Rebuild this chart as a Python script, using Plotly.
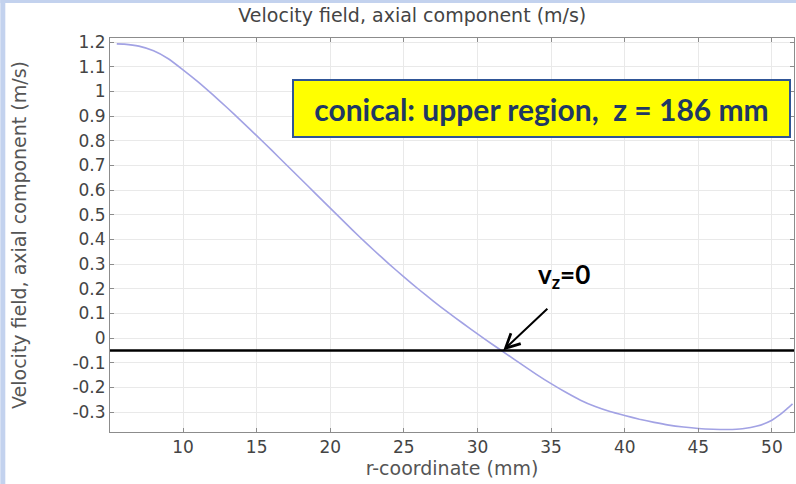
import plotly.graph_objects as go

# ---- data ----
r_mm = [5.5, 6, 7, 8, 9, 10, 11, 12, 13, 14, 15, 16, 17, 18, 19, 20, 21, 22,
        23, 24, 25, 26, 27, 28, 29, 30, 31, 32, 33, 34, 35, 36, 37, 38, 39,
        40, 41, 42, 43, 44, 45, 46, 47, 48, 49, 50, 50.5, 51, 51.4]
vz = [1.193, 1.192, 1.184, 1.165, 1.133, 1.088, 1.040, 0.988, 0.934, 0.878,
      0.821, 0.763, 0.704, 0.645, 0.586, 0.527, 0.468, 0.410, 0.354, 0.300,
      0.248, 0.198, 0.150, 0.104, 0.060, 0.017, -0.025, -0.066, -0.107,
      -0.147, -0.185, -0.220, -0.252, -0.278, -0.298, -0.314, -0.329, -0.342,
      -0.353, -0.361, -0.367, -0.370, -0.371, -0.368, -0.357, -0.333, -0.313,
      -0.288, -0.267]

x_ticks = [10, 15, 20, 25, 30, 35, 40, 45, 50]
y_ticks = [-0.3, -0.2, -0.1, 0, 0.1, 0.2, 0.3, 0.4, 0.5, 0.6, 0.7, 0.8, 0.9, 1.0, 1.1, 1.2]
y_ticktext = ["-0.3", "-0.2", "-0.1", "0", "0.1", "0.2", "0.3", "0.4", "0.5",
              "0.6", "0.7", "0.8", "0.9", "1", "1.1", "1.2"]

marker_line_y = -0.05          # horizontal reference line labelled v_z=0
arrow_head = (31.75, -0.05)
arrow_tail = (34.85, 0.125)

title_text = "Velocity field, axial component (m/s)"
box_text = "conical: upper region,  z = 186 mm"

X_RANGE = [5.04, 51.5]
Y_RANGE = [-0.381, 1.217]

fig = go.Figure()
fig.add_trace(go.Scatter(
    x=r_mm, y=vz, mode="lines",
    line=dict(color="#a2a2e4", width=1.6, shape="spline", smoothing=0.5),
    hoverinfo="skip", showlegend=False))

axis_common = dict(
    showline=True, linecolor="#8c8c8c", linewidth=1, mirror="ticks",
    ticks="inside", ticklen=4, tickcolor="#8c8c8c",
    showgrid=True, gridcolor="#e9e9e9", gridwidth=1, zeroline=False,
    tickfont=dict(family="DejaVu Sans", size=17, color="#444444"),
)

fig.update_xaxes(range=X_RANGE, tickvals=x_ticks,
                 title=dict(text="r-coordinate (mm)", standoff=0,
                            font=dict(family="DejaVu Sans", size=19, color="#555555")),
                 **axis_common)
fig.update_yaxes(range=Y_RANGE, tickvals=y_ticks, ticktext=y_ticktext,
                 title=dict(text=title_text, standoff=40,
                            font=dict(family="DejaVu Sans", size=19, color="#555555")),
                 **axis_common)

# horizontal black line
fig.add_shape(type="line", xref="paper", yref="y", x0=0, x1=1,
              y0=marker_line_y, y1=marker_line_y,
              line=dict(color="black", width=2.5))

# light blue frame strips (left and top)
plot_w = 686.0
plot_h = 394.5
fig.add_shape(type="rect", xref="paper", yref="paper", layer="below",
              x0=-110 / plot_w, x1=-105 / plot_w, y0=-52 / plot_h, y1=1 + 38 / plot_h,
              line=dict(width=0), fillcolor="#c3d2ee")
fig.add_shape(type="rect", xref="paper", yref="paper", layer="below",
              x0=-110 / plot_w, x1=1 + 2 / plot_w, y0=1 + 35 / plot_h, y1=1 + 38 / plot_h,
              line=dict(width=0), fillcolor="#c3d2ee")

# yellow label box
fig.add_annotation(
    x=34.32, y=0.93, xref="x", yref="y", text="<b>" + box_text + "</b>",
    showarrow=False, bgcolor="#ffff00", bordercolor="#2f5597", borderwidth=2,
    borderpad=0, width=495, height=55,
    font=dict(family="Lato", size=30, color="#1f3864"))

# v_z = 0 label
fig.add_annotation(
    x=35.9, y=0.255, xref="x", yref="y",
    text="<b>v<sub>z</sub>=0</b>", showarrow=False,
    font=dict(family="Lato", size=26, color="black"))

# arrow
fig.add_annotation(
    x=arrow_head[0], y=arrow_head[1], ax=arrow_tail[0], ay=arrow_tail[1],
    xref="x", yref="y", axref="x", ayref="y", text="",
    showarrow=True, arrowhead=5, arrowsize=1.4, arrowwidth=2, arrowcolor="black")

fig.update_layout(
    width=796, height=484,
    margin=dict(l=110, r=2, t=38, b=52),
    paper_bgcolor="white", plot_bgcolor="white",
    title=dict(text=title_text, x=0.518, xanchor="center", y=0.968, yanchor="middle",
               font=dict(family="DejaVu Sans", size=19, color="#444444")),
)

fig.write_html("out.html")
